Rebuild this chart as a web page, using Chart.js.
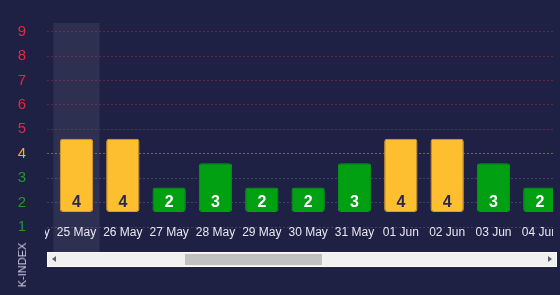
<!DOCTYPE html>
<html>
<head>
<meta charset="utf-8">
<script src="https://cdn.jsdelivr.net/npm/chart.js@4.4.1/dist/chart.umd.min.js"></script>
<style>
  html, body { margin: 0; padding: 0; }
  body { width: 560px; height: 295px; background: #1e2044; position: relative; overflow: hidden;
         font-family: "Liberation Sans", Arial, sans-serif; }
  #axisBox { position: absolute; left: 0; top: 0; width: 47px; height: 252px; }
  #plotBox { position: absolute; left: 45px; top: 0; width: 508px; height: 252px; overflow: hidden; }
  #plotInner { position: absolute; left: -38.5px; top: 0; width: 556px; height: 252px; }
  #yTitle { position: absolute; left: 22px; top: 265px; transform: translate(-50%, -50%) rotate(-90deg);
            color: #c9cbe0; font-size: 11px; white-space: nowrap; }
  #scroll { position: absolute; left: 47px; top: 252px; width: 508px; height: 13px;
            background: #f0f0f0; border: 1px solid #fafafa; }
  #thumb { position: absolute; left: 137px; top: 1px; width: 137px; height: 11px; background: #c1c1c1; }
  .arrL { position: absolute; left: 4px; top: 3px; width: 0; height: 0;
          border-top: 3.5px solid transparent; border-bottom: 3.5px solid transparent; border-right: 4px solid #606060; }
  .arrR { position: absolute; right: 4px; top: 3px; width: 0; height: 0;
          border-top: 3.5px solid transparent; border-bottom: 3.5px solid transparent; border-left: 4px solid #606060; }
</style>
</head>
<body>
<div id="axisBox"><canvas id="axisChart"></canvas></div>
<div id="plotBox"><div id="plotInner"><canvas id="kChart"></canvas></div></div>
<div id="yTitle">K-INDEX</div>
<div id="scroll"><div class="arrL"></div><div id="thumb"></div><div class="arrR"></div></div>
<script>
// Daily planetary K-index
const days = ['24 May', '25 May', '26 May', '27 May', '28 May', '29 May', '30 May',
              '31 May', '01 Jun', '02 Jun', '03 Jun', '04 Jun'];
const kIndex = [null, 4, 4, 2, 3, 2, 2, 3, 4, 4, 3, 2];
const yTicks = [1, 2, 3, 4, 5, 6, 7, 8, 9];
const hoverDay = '25 May';

// Bars rise from level 1
const BAR_FLOOR = 1;

// Shared vertical range of the K scale
const K_MIN = 1, K_MAX = 9.356;
// The bar scale sits slightly higher than the grid scale
const BAR_SHIFT = 0.615;

function levelColor(v) {
  if (v >= 5) return '#e8283c';
  if (v === 4) return '#f4ae2e';
  return '#1f9a2a';
}
function gridColor(v) {
  if (v >= 5) return 'rgba(200, 40, 64, 0.45)';
  if (v === 4) return 'rgba(196, 160, 70, 0.55)';
  return 'rgba(110, 120, 165, 0.4)';
}
function barFill(v) { return v >= 4 ? '#fdbe2f' : '#00a012'; }
function barEdge(v) { return v >= 4 ? '#d9a02c' : '#00a012'; }

const FONT = '"Liberation Sans", Arial, sans-serif';

// Left axis with coloured K levels
new Chart(document.getElementById('axisChart'), {
  type: 'bar',
  data: { labels: [], datasets: [] },
  options: {
    responsive: true, maintainAspectRatio: false, animation: false,
    layout: { padding: { top: 23, bottom: 25, left: 0, right: 0 } },
    plugins: { legend: { display: false }, tooltip: { enabled: false } },
    scales: {
      x: { display: false },
      y: {
        min: K_MIN, max: K_MAX,
        afterBuildTicks: (s) => { s.ticks = yTicks.map(v => ({ value: v })); },
        afterFit: (s) => { s.width = 26; },
        grid: { display: false, drawTicks: false },
        border: { display: false },
        ticks: {
          padding: 0,
          font: { family: FONT, size: 15 },
          color: (ctx) => levelColor(ctx.tick.value)
        }
      }
    }
  }
});

// Highlighted column behind the hovered day
const hoverColumn = {
  id: 'hoverColumn',
  beforeDraw(chart) {
    const x = chart.scales.x;
    const i = chart.data.labels.indexOf(hoverDay);
    if (i < 0) return;
    const w = x.width / chart.data.labels.length;
    const cx = x.getPixelForValue(i);
    const ctx = chart.ctx;
    ctx.save();
    ctx.fillStyle = 'rgba(255, 255, 255, 0.075)';
    ctx.fillRect(cx - w / 2, chart.chartArea.top, w, chart.height - chart.chartArea.top);
    ctx.restore();
  }
};

// K value written near the foot of each bar
const barValues = {
  id: 'barValues',
  afterDatasetsDraw(chart) {
    const ctx = chart.ctx;
    const meta = chart.getDatasetMeta(0);
    ctx.save();
    ctx.font = 'bold 16px ' + FONT;
    ctx.textAlign = 'center';
    ctx.textBaseline = 'alphabetic';
    meta.data.forEach((el, i) => {
      const v = kIndex[i];
      if (v == null) return;
      ctx.fillStyle = v >= 4 ? '#262a50' : '#ffffff';
      ctx.fillText(String(v), el.x, el.base - 5);
    });
    ctx.restore();
  }
};

new Chart(document.getElementById('kChart'), {
  type: 'bar',
  data: {
    labels: days,
    datasets: [{
      data: kIndex.map(v => v == null ? null : [BAR_FLOOR, v]),
      backgroundColor: kIndex.map(v => barFill(v)),
      borderColor: kIndex.map(v => barEdge(v)),
      borderWidth: 1,
      borderSkipped: false,
      borderRadius: 3,
      categoryPercentage: 1,
      barPercentage: 0.72,
      yAxisID: 'yb'
    }]
  },
  options: {
    responsive: true, maintainAspectRatio: false, animation: false,
    layout: { padding: { top: 23, bottom: 0, left: 0, right: 0 } },
    plugins: { legend: { display: false }, tooltip: { enabled: false } },
    scales: {
      x: {
        grid: { display: false, drawTicks: false },
        border: { display: false },
        afterFit: (s) => { s.height = 25; },
        ticks: {
          padding: -2, maxRotation: 0, autoSkip: false,
          font: { family: FONT, size: 12 },
          color: '#e6e7f0'
        }
      },
      y: {
        min: K_MIN, max: K_MAX,
        afterBuildTicks: (s) => { s.ticks = yTicks.map(v => ({ value: v })); },
        afterFit: (s) => { s.width = 0; },
        ticks: { display: false },
        border: { display: false, dash: [2, 2] },
        grid: {
          drawTicks: false,
          lineWidth: 1,
          color: (ctx) => gridColor(ctx.tick.value)
        }
      },
      yb: {
        display: false,
        min: K_MIN - BAR_SHIFT, max: K_MAX - BAR_SHIFT
      }
    }
  },
  plugins: [hoverColumn, barValues]
});
</script>
</body>
</html>
